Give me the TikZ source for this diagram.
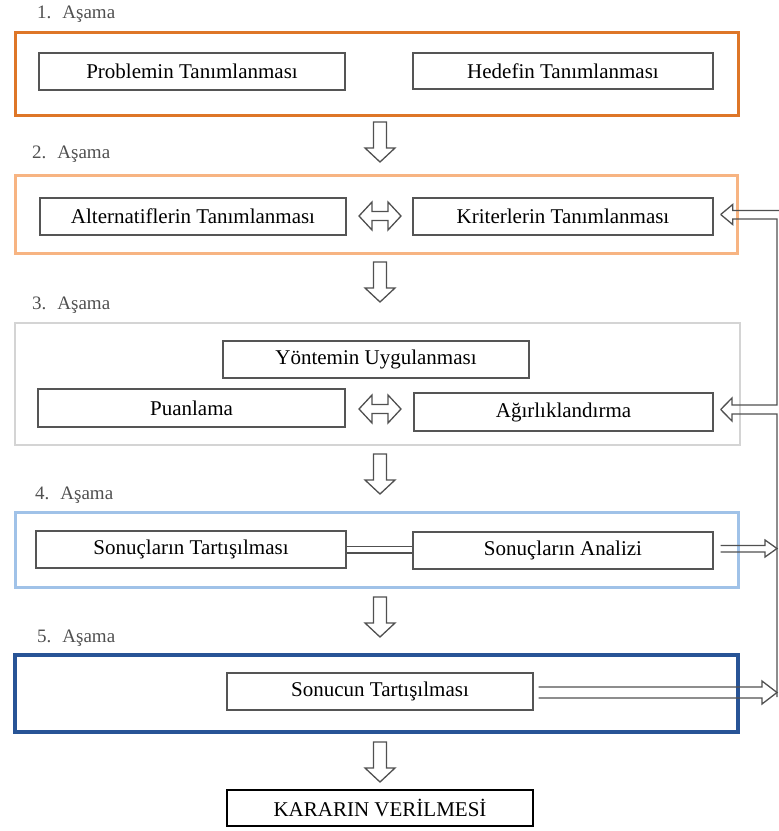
\documentclass[tikz,border=0pt]{standalone}
\usepackage{fontspec}
\setmainfont{Liberation Serif}
\newfontfamily\tms{Liberation Serif}
\usetikzlibrary{calc}
\definecolor{fone}{RGB}{222,118,40}
\definecolor{ftwo}{RGB}{247,180,130}
\definecolor{fthree}{RGB}{212,212,212}
\definecolor{ffour}{RGB}{160,194,232}
\definecolor{ffive}{RGB}{40,84,150}
\definecolor{boxline}{RGB}{85,85,85}
\definecolor{arrline}{RGB}{80,80,80}
\definecolor{lbl}{RGB}{80,80,80}
\tikzset{
  stepbox/.style={draw=boxline, line width=1.4pt, fill=white, inner sep=0pt,
    font=\tms\fontsize{21}{24}\selectfont, text=black},
  stagelbl/.style={anchor=west, inner sep=0pt, text=lbl, font=\tms\fontsize{19}{22}\selectfont},
  blk/.style={draw=arrline, line width=1.3pt, fill=white, line join=miter},
  dline/.style={draw=arrline, line width=1.3pt},
}
\newcommand{\mkbox}[6]{% name, cx, cy, w, h, text
  \node[stepbox, minimum width=#4, minimum height=#5] (#1) at (#2,#3) {#6};}
\begin{document}
\begin{tikzpicture}[x=1pt,y=-1pt]
\useasboundingbox (0,0) rectangle (779,831);
\clip (0,0) rectangle (779,831);
% stage frames
\draw[fone, line width=3pt] (15,32) rectangle (738,115);
\draw[ftwo, line width=3pt] (15,175) rectangle (737,253);
\draw[fthree, line width=2.5pt] (15,323) rectangle (740,445);
\draw[ffour, line width=3pt] (15,512) rectangle (738,587);
\draw[ffive, line width=3.2pt] (15,655) rectangle (738,732);
% stage labels
\node[stagelbl] (l1) at (37,14) {1.\hspace{11pt}Aşama};
\node[stagelbl] (l2) at (32,154) {2.\hspace{11pt}Aşama};
\node[stagelbl] (l3) at (32,305) {3.\hspace{11pt}Aşama};
\node[stagelbl] (l4) at (35,495) {4.\hspace{11pt}Aşama};
\node[stagelbl] (l5) at (37,638) {5.\hspace{11pt}Aşama};
% boxes
\mkbox{prob}{192}{71.5}{306pt}{37pt}{Problemin Tanımlanması}
\mkbox{hedef}{563}{71}{300pt}{36pt}{Hedefin Tanımlanması}
\mkbox{alt}{193}{216.5}{306pt}{37pt}{Alternatiflerin Tanımlanması}
\mkbox{krit}{563}{216.5}{300pt}{37pt}{Kriterlerin Tanımlanması}
\mkbox{yont}{376}{359.5}{306pt}{37pt}{Yöntemin Uygulanması}
\mkbox{puan}{191.5}{408}{307pt}{38pt}{Puanlama}
\mkbox{agir}{563.5}{412}{299pt}{38pt}{Ağırlıklandırma}
\mkbox{sont}{191}{549.5}{310pt}{37pt}{Sonuçların Tartışılması}
\mkbox{sona}{563}{550.5}{300pt}{37pt}{Sonuçların Analizi}
\mkbox{sonuc}{380}{691.5}{306pt}{37pt}{Sonucun Tartışılması}
\node[stepbox, draw=black, line width=2.6pt, minimum width=306pt, minimum height=36pt] (karar) at (380,808) {KARARIN VERİLMESİ};
% down block arrows
\foreach \t in {122,262,454,597,742}{
  \draw[blk] (373.5,\t) -- (386.5,\t) -- (386.5,\t+26) -- (395,\t+26) -- (380,\t+40)
    -- (365,\t+26) -- (373.5,\t+26) -- cycle;
}
% double-headed hollow arrows
\foreach \c in {216,409}{
  \draw[blk] (359,\c) -- (372,\c-14) -- (372,\c-4.5) -- (388,\c-4.5) -- (388,\c-14)
    -- (401,\c) -- (388,\c+14) -- (388,\c+4.5) -- (372,\c+4.5) -- (372,\c+14) -- cycle;
}
% equals connector between stage-4 boxes
\draw[dline] (sont.east |- 0,546.5) -- (sona.west |- 0,546.5);
\draw[dline] (sont.east |- 0,553) -- (sona.west |- 0,553);
% feedback arrows into Kriterler and Agirlik
\coordinate (kt) at ($(krit.east)+(7,-2)$);
\coordinate (at) at ($(agir.east)+(7,-2.5)$);
\coordinate (trunkend) at (777,697);
\draw[dline] (kt) -- ++(12,-10) -- ++(0,6) -- (790,210.5);
\draw[dline] (kt) -- ++(12,10) -- ++(0,-5.5) -- (777,219) -- (777,405) -- (732,405) -- (732,398) -- (at);
\draw[dline] (at) -- (732,421) -- (732,414) -- (777,414) -- (trunkend);
% outgoing arrows from Analizi and Sonucun
\draw[dline] ($(sona.east)+(7,-5)$) -- (765,545.5) -- (765,540) -- (777,548.5) -- (765,557) -- (765,552) -- ($(sona.east)+(7,1.5)$);
\draw[dline] ($(sonuc.east)+(5,-4.5)$) -- (762,687) -- (762,681) -- (777,692.5) -- (762,704) -- (762,698) -- ($(sonuc.east)+(5,6.5)$);
\end{tikzpicture}
\end{document}
